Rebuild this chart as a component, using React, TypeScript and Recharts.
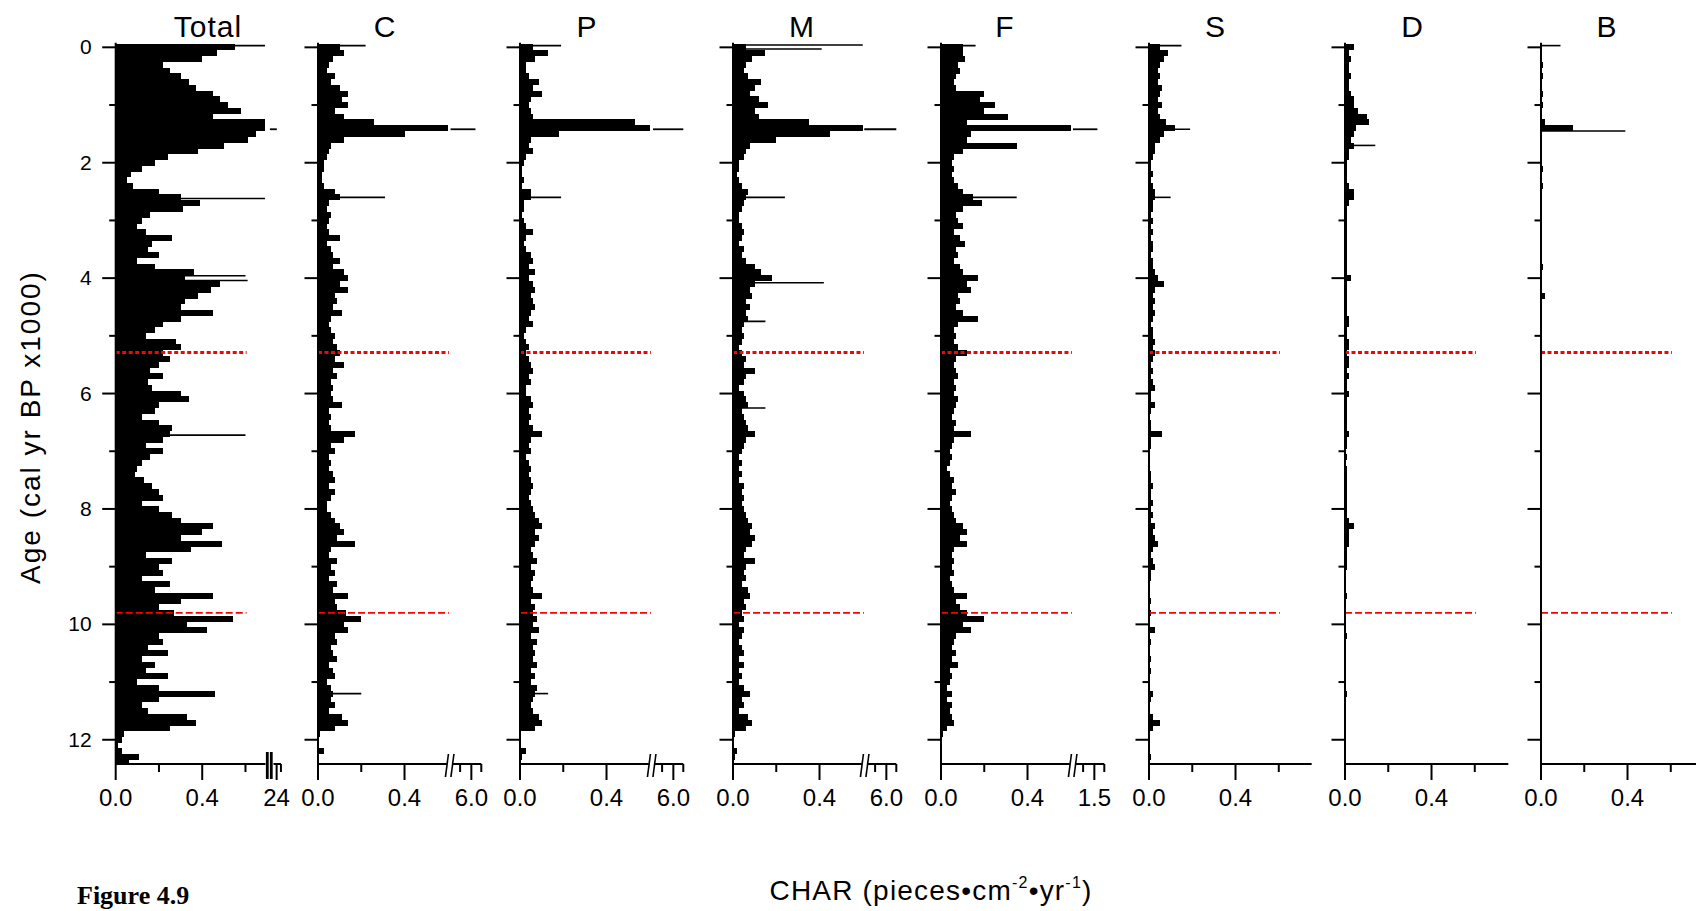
import React from 'react';
import { ComposedChart, Bar, XAxis, YAxis, ReferenceLine } from 'recharts';

// ---------- categories: age (cal yr BP x1000), one sample every 0.1 ----------
const AGES: number[] = Array.from({ length: 125 }, (_, i) => i / 10);
const AGE_TICKS = [0, 1, 2, 3, 4, 5, 6, 7, 8, 9, 10, 11, 12];

// ---------- series values (CHAR, read on the lower axis scale) ----------
const TOTAL = [
  0.55, 0.47, 0.40, 0.22, 0.25, 0.30, 0.34, 0.37, 0.45, 0.48,
  0.52, 0.58, 0.45, 0.69, 0.69, 0.65, 0.61, 0.50, 0.38, 0.24,
  0.18, 0.12, 0.07, 0.05, 0.08, 0.20, 0.30, 0.39, 0.31, 0.16,
  0.12, 0.10, 0.14, 0.26, 0.17, 0.15, 0.20, 0.10, 0.18, 0.36,
  0.32, 0.48, 0.44, 0.38, 0.32, 0.30, 0.45, 0.30, 0.22, 0.18,
  0.14, 0.28, 0.30, 0.22, 0.25, 0.20, 0.16, 0.22, 0.15, 0.17,
  0.30, 0.34, 0.20, 0.18, 0.12, 0.20, 0.26, 0.25, 0.22, 0.14,
  0.22, 0.16, 0.12, 0.10, 0.09, 0.13, 0.17, 0.20, 0.22, 0.12,
  0.20, 0.26, 0.30, 0.45, 0.40, 0.30, 0.49, 0.35, 0.14, 0.26,
  0.20, 0.22, 0.12, 0.25, 0.18, 0.45, 0.30, 0.20, 0.27, 0.54,
  0.33, 0.42, 0.20, 0.22, 0.15, 0.24, 0.12, 0.18, 0.14, 0.24,
  0.10, 0.20, 0.46, 0.20, 0.12, 0.15, 0.33, 0.37, 0.25, 0.04,
  0.03, 0.01, 0.03, 0.11, 0.06,
];
const C = [
  0.10, 0.12, 0.07, 0.05, 0.04, 0.08, 0.06, 0.10, 0.14, 0.11,
  0.14, 0.08, 0.12, 0.26, 0.60, 0.40, 0.12, 0.06, 0.05, 0.04,
  0.03, 0.03, 0.02, 0.02, 0.03, 0.08, 0.10, 0.05, 0.04, 0.06,
  0.05, 0.04, 0.05, 0.10, 0.04, 0.06, 0.07, 0.10, 0.07, 0.12,
  0.14, 0.10, 0.14, 0.08, 0.09, 0.07, 0.11, 0.06, 0.05, 0.06,
  0.08, 0.07, 0.09, 0.10, 0.08, 0.12, 0.07, 0.09, 0.06, 0.07,
  0.06, 0.07, 0.11, 0.05, 0.06, 0.05, 0.06, 0.17, 0.12, 0.06,
  0.08, 0.05, 0.06, 0.05, 0.07, 0.08, 0.05, 0.08, 0.06, 0.04,
  0.04, 0.06, 0.08, 0.10, 0.12, 0.09, 0.17, 0.06, 0.05, 0.09,
  0.06, 0.08, 0.05, 0.09, 0.07, 0.14, 0.08, 0.09, 0.13, 0.20,
  0.12, 0.14, 0.08, 0.09, 0.06, 0.07, 0.09, 0.05, 0.07, 0.08,
  0.04, 0.06, 0.07, 0.06, 0.08, 0.05, 0.11, 0.14, 0.08, 0.01,
  0.00, 0.00, 0.03, 0.00, 0.00,
];
const P = [
  0.06, 0.13, 0.07, 0.03, 0.03, 0.04, 0.09, 0.06, 0.10, 0.05,
  0.04, 0.05, 0.06, 0.53, 0.60, 0.18, 0.05, 0.04, 0.06, 0.03,
  0.02, 0.01, 0.01, 0.02, 0.01, 0.05, 0.05, 0.02, 0.02, 0.01,
  0.02, 0.03, 0.06, 0.03, 0.02, 0.03, 0.05, 0.06, 0.04, 0.07,
  0.04, 0.06, 0.07, 0.05, 0.06, 0.07, 0.05, 0.04, 0.06, 0.03,
  0.02, 0.03, 0.04, 0.03, 0.04, 0.05, 0.06, 0.04, 0.05, 0.03,
  0.03, 0.05, 0.06, 0.04, 0.05, 0.04, 0.06, 0.10, 0.05, 0.04,
  0.05, 0.03, 0.04, 0.05, 0.04, 0.05, 0.06, 0.05, 0.04, 0.05,
  0.06, 0.07, 0.09, 0.10, 0.07, 0.09, 0.07, 0.05, 0.06, 0.08,
  0.05, 0.07, 0.06, 0.05, 0.06, 0.10, 0.05, 0.07, 0.06, 0.08,
  0.06, 0.09, 0.05, 0.08, 0.06, 0.07, 0.06, 0.08, 0.05, 0.07,
  0.05, 0.08, 0.07, 0.06, 0.05, 0.06, 0.09, 0.10, 0.07, 0.00,
  0.00, 0.00, 0.03, 0.01, 0.00,
];
const M = [
  0.06, 0.15, 0.09, 0.06, 0.05, 0.07, 0.13, 0.10, 0.08, 0.12,
  0.16, 0.10, 0.12, 0.35, 0.60, 0.45, 0.20, 0.08, 0.06, 0.05,
  0.03, 0.03, 0.02, 0.03, 0.04, 0.07, 0.06, 0.05, 0.04, 0.03,
  0.03, 0.04, 0.05, 0.04, 0.03, 0.05, 0.04, 0.06, 0.10, 0.13,
  0.18, 0.10, 0.08, 0.09, 0.06, 0.08, 0.06, 0.07, 0.05, 0.04,
  0.05, 0.04, 0.03, 0.04, 0.06, 0.05, 0.10, 0.06, 0.05, 0.03,
  0.05, 0.06, 0.07, 0.04, 0.05, 0.06, 0.07, 0.10, 0.06, 0.05,
  0.04, 0.03, 0.04, 0.03, 0.04, 0.03, 0.05, 0.04, 0.05, 0.04,
  0.05, 0.06, 0.07, 0.09, 0.08, 0.10, 0.09, 0.06, 0.05, 0.10,
  0.06, 0.05, 0.06, 0.04, 0.07, 0.08, 0.05, 0.06, 0.04, 0.05,
  0.03, 0.05, 0.04, 0.03, 0.04, 0.05, 0.03, 0.05, 0.03, 0.04,
  0.03, 0.05, 0.08, 0.04, 0.05, 0.03, 0.07, 0.09, 0.06, 0.01,
  0.00, 0.00, 0.02, 0.01, 0.00,
];
const F = [
  0.10, 0.10, 0.11, 0.08, 0.09, 0.07, 0.06, 0.07, 0.20, 0.18,
  0.25, 0.20, 0.31, 0.12, 0.60, 0.14, 0.12, 0.35, 0.10, 0.06,
  0.05, 0.06, 0.05, 0.06, 0.08, 0.10, 0.15, 0.19, 0.10, 0.07,
  0.08, 0.10, 0.06, 0.09, 0.11, 0.07, 0.08, 0.06, 0.09, 0.10,
  0.17, 0.12, 0.14, 0.08, 0.09, 0.07, 0.10, 0.17, 0.08, 0.06,
  0.07, 0.06, 0.08, 0.12, 0.07, 0.06, 0.07, 0.08, 0.06, 0.07,
  0.06, 0.08, 0.07, 0.06, 0.05, 0.07, 0.06, 0.14, 0.06, 0.05,
  0.04, 0.05, 0.04, 0.03, 0.04, 0.06, 0.05, 0.07, 0.05, 0.04,
  0.05, 0.06, 0.07, 0.10, 0.12, 0.09, 0.12, 0.06, 0.05, 0.06,
  0.05, 0.06, 0.04, 0.05, 0.06, 0.12, 0.07, 0.09, 0.12, 0.20,
  0.10, 0.14, 0.07, 0.06, 0.05, 0.07, 0.05, 0.08, 0.04, 0.05,
  0.04, 0.03, 0.05, 0.03, 0.05, 0.04, 0.05, 0.06, 0.03, 0.01,
  0.00, 0.00, 0.00, 0.00, 0.00,
];
const S = [
  0.05, 0.09, 0.07, 0.05, 0.04, 0.05, 0.04, 0.06, 0.05, 0.04,
  0.06, 0.04, 0.05, 0.08, 0.12, 0.07, 0.05, 0.03, 0.03, 0.02,
  0.01, 0.01, 0.02, 0.01, 0.02, 0.03, 0.03, 0.02, 0.02, 0.01,
  0.02, 0.01, 0.02, 0.01, 0.02, 0.02, 0.01, 0.02, 0.02, 0.03,
  0.04, 0.07, 0.03, 0.02, 0.03, 0.02, 0.03, 0.02, 0.01, 0.02,
  0.02, 0.03, 0.02, 0.03, 0.02, 0.01, 0.02, 0.01, 0.02, 0.03,
  0.01, 0.01, 0.03, 0.01, 0.00, 0.01, 0.01, 0.06, 0.01, 0.01,
  0.00, 0.00, 0.00, 0.00, 0.01, 0.01, 0.02, 0.01, 0.01, 0.02,
  0.01, 0.02, 0.01, 0.03, 0.02, 0.03, 0.04, 0.02, 0.01, 0.02,
  0.03, 0.01, 0.01, 0.00, 0.00, 0.00, 0.01, 0.00, 0.01, 0.00,
  0.00, 0.03, 0.00, 0.01, 0.00, 0.00, 0.01, 0.00, 0.01, 0.00,
  0.00, 0.00, 0.02, 0.01, 0.00, 0.00, 0.02, 0.05, 0.02, 0.00,
  0.00, 0.00, 0.00, 0.01, 0.00,
];
const D = [
  0.04, 0.02, 0.03, 0.02, 0.02, 0.03, 0.02, 0.02, 0.03, 0.04,
  0.04, 0.06, 0.10, 0.11, 0.05, 0.04, 0.03, 0.04, 0.02, 0.02,
  0.01, 0.01, 0.01, 0.01, 0.02, 0.04, 0.04, 0.02, 0.01, 0.01,
  0.01, 0.01, 0.01, 0.01, 0.01, 0.01, 0.01, 0.01, 0.01, 0.01,
  0.03, 0.01, 0.01, 0.01, 0.01, 0.01, 0.01, 0.02, 0.02, 0.01,
  0.01, 0.02, 0.02, 0.01, 0.02, 0.02, 0.01, 0.02, 0.01, 0.01,
  0.02, 0.01, 0.01, 0.01, 0.01, 0.01, 0.01, 0.02, 0.01, 0.01,
  0.00, 0.01, 0.00, 0.01, 0.01, 0.01, 0.01, 0.01, 0.01, 0.01,
  0.01, 0.01, 0.02, 0.04, 0.02, 0.02, 0.02, 0.01, 0.01, 0.01,
  0.01, 0.00, 0.00, 0.00, 0.00, 0.01, 0.00, 0.00, 0.00, 0.00,
  0.00, 0.00, 0.01, 0.00, 0.00, 0.00, 0.00, 0.00, 0.00, 0.00,
  0.00, 0.00, 0.01, 0.00, 0.00, 0.00, 0.00, 0.00, 0.00, 0.00,
  0.00, 0.00, 0.00, 0.00, 0.00,
];
const B = [
  0.00, 0.00, 0.00, 0.01, 0.00, 0.01, 0.00, 0.00, 0.01, 0.00,
  0.01, 0.00, 0.00, 0.02, 0.15, 0.00, 0.00, 0.00, 0.00, 0.00,
  0.00, 0.01, 0.00, 0.00, 0.01, 0.00, 0.00, 0.00, 0.00, 0.00,
  0.00, 0.00, 0.00, 0.00, 0.00, 0.00, 0.00, 0.00, 0.01, 0.00,
  0.00, 0.00, 0.00, 0.02, 0.00, 0.00, 0.00, 0.00, 0.00, 0.00,
  0.00, 0.00, 0.00, 0.00, 0.00, 0.00, 0.00, 0.00, 0.00, 0.00,
  0.00, 0.00, 0.00, 0.00, 0.00, 0.00, 0.00, 0.00, 0.00, 0.00,
  0.00, 0.00, 0.00, 0.00, 0.00, 0.00, 0.00, 0.00, 0.00, 0.00,
  0.00, 0.00, 0.00, 0.00, 0.00, 0.00, 0.00, 0.00, 0.00, 0.00,
  0.00, 0.00, 0.00, 0.00, 0.00, 0.00, 0.00, 0.00, 0.00, 0.00,
  0.00, 0.00, 0.00, 0.00, 0.00, 0.00, 0.00, 0.00, 0.00, 0.00,
  0.00, 0.00, 0.00, 0.00, 0.00, 0.00, 0.00, 0.00, 0.00, 0.00,
  0.00, 0.00, 0.00, 0.00, 0.00,
];

// thin single-sample peaks: [age, value]
const TOTAL_SPIKES = [[-0.03, 0.69], [2.62, 0.69], [3.96, 0.60], [4.04, 0.61], [6.72, 0.60]];
const C_SPIKES = [[-0.03, 0.22], [2.6, 0.31], [11.2, 0.20]];
const P_SPIKES = [[-0.03, 0.19], [2.6, 0.19], [11.2, 0.13]];
const M_SPIKES = [[-0.04, 0.60], [0.03, 0.41], [2.6, 0.24], [4.08, 0.42], [4.75, 0.15], [6.25, 0.15]];
const F_SPIKES = [[-0.03, 0.16], [2.6, 0.35]];
const S_SPIKES = [[-0.03, 0.15], [1.42, 0.19], [2.6, 0.10]];
const D_SPIKES = [[1.7, 0.14]];
const B_SPIKES = [[-0.03, 0.09], [1.45, 0.39]];

// part of the 1.4 ka peak drawn beyond the axis break: [age, from, to]
const TOTAL_OVER = [[1.42, 0.713, 0.745]];
const C_OVER = [[1.42, 0.613, 0.728]];
const P_OVER = [[1.42, 0.615, 0.755]];
const M_OVER = [[1.42, 0.607, 0.755]];
const F_OVER = [[1.42, 0.61, 0.723]];

// red dashed zone boundaries (age)
const ZONE_TOP = 5.29;
const ZONE_BOTTOM = 9.8;
const ZONE_EXTENT = 0.605;

// x tick definitions
type TickDef = { v: number; kind: 'major' | 'minor' | 'bars' | 'slash'; label?: string };
const TICKS_TOTAL: TickDef[] = [
  { v: 0, kind: 'major', label: '0.0' },
  { v: 0.2, kind: 'minor' },
  { v: 0.4, kind: 'major', label: '0.4' },
  { v: 0.6, kind: 'minor' },
  { v: 0.711, kind: 'bars' },
  { v: 0.744, kind: 'major', label: '24' },
  { v: 0.764, kind: 'minor' },
];
const brokenTicks = (upper: string): TickDef[] => [
  { v: 0, kind: 'major', label: '0.0' },
  { v: 0.2, kind: 'minor' },
  { v: 0.4, kind: 'major', label: '0.4' },
  { v: 0.61, kind: 'slash' },
  { v: 0.657, kind: 'minor' },
  { v: 0.709, kind: 'major', label: upper },
  { v: 0.755, kind: 'minor' },
];
const TICKS_PLAIN: TickDef[] = [
  { v: 0, kind: 'major', label: '0.0' },
  { v: 0.2, kind: 'minor' },
  { v: 0.4, kind: 'major', label: '0.4' },
  { v: 0.6, kind: 'minor' },
];

// ---------- layout ----------
const W = 1696;
const H = 911;
const PX_PER_UNIT = 216.3;
const PLOT_TOP = 42.7;
const AXIS_Y = 764;
const AGE_DOMAIN: [number, number] = [-0.08, 12.42];
const FONT = '"Liberation Sans", Arial, sans-serif';

type PanelDef = {
  name: string; zeroX: number; values: number[]; spikes: number[][]; over: number[][];
  ticks: TickDef[]; axisMax: number; titleX: number; ageLabels: boolean;
};

const PANELS: PanelDef[] = [
  { name: 'Total', zeroX: 115.7, values: TOTAL, spikes: TOTAL_SPIKES, over: TOTAL_OVER, ticks: TICKS_TOTAL, axisMax: 0.764, titleX: 208, ageLabels: true },
  { name: 'C', zeroX: 317.5, values: C, spikes: C_SPIKES, over: C_OVER, ticks: brokenTicks('6.0'), axisMax: 0.755, titleX: 385, ageLabels: false },
  { name: 'P', zeroX: 520, values: P, spikes: P_SPIKES, over: P_OVER, ticks: brokenTicks('6.0'), axisMax: 0.755, titleX: 587, ageLabels: false },
  { name: 'M', zeroX: 733.4, values: M, spikes: M_SPIKES, over: M_OVER, ticks: brokenTicks('6.0'), axisMax: 0.755, titleX: 802, ageLabels: false },
  { name: 'F', zeroX: 940.7, values: F, spikes: F_SPIKES, over: F_OVER, ticks: brokenTicks('1.5'), axisMax: 0.755, titleX: 1005, ageLabels: false },
  { name: 'S', zeroX: 1149.3, values: S, spikes: S_SPIKES, over: [], ticks: TICKS_PLAIN, axisMax: 0.752, titleX: 1215.5, ageLabels: false },
  { name: 'D', zeroX: 1345, values: D, spikes: D_SPIKES, over: [], ticks: TICKS_PLAIN, axisMax: 0.755, titleX: 1412.5, ageLabels: false },
  { name: 'B', zeroX: 1541, values: B, spikes: B_SPIKES, over: [], ticks: TICKS_PLAIN, axisMax: 0.755, titleX: 1607, ageLabels: false },
];

const BarShape = (props: any) => {
  const { x, y, width, height } = props;
  if (!width || width <= 0) return <g />;
  return <rect x={x} y={y} width={width} height={height} fill="#000" shapeRendering="crispEdges" />;
};

const XTick = (props: any) => {
  const { x, y, payload, defs } = props;
  const def: TickDef | undefined = defs.find((d: TickDef) => Math.abs(d.v - payload.value) < 1e-6);
  if (!def) return <g />;
  if (def.kind === 'bars') {
    return (
      <g>
        <rect x={x - 4} y={y - 13} width={8} height={29} fill="#fff" />
        <rect x={x - 3.6} y={y - 12} width={2.8} height={27} fill="#000" />
        <rect x={x + 0.4} y={y - 12} width={2.8} height={27} fill="#000" />
      </g>
    );
  }
  if (def.kind === 'slash') {
    return (
      <g>
        <rect x={x - 3} y={y - 3} width={6} height={6} fill="#fff" />
        <line x1={x - 4.5} y1={y + 13} x2={x - 1.5} y2={y - 10} stroke="#000" strokeWidth={1.6} />
        <line x1={x + 1} y1={y + 13} x2={x + 4} y2={y - 10} stroke="#000" strokeWidth={1.6} />
      </g>
    );
  }
  const len = def.kind === 'major' ? 16 : 8;
  return (
    <g>
      <line x1={x} x2={x} y1={y} y2={y + len} stroke="#000" strokeWidth={2} />
      {def.label ? (
        <text x={x} y={y + 42} textAnchor="middle" fontSize={24} fontFamily={FONT} fill="#000">
          {def.label}
        </text>
      ) : null}
    </g>
  );
};

const YTick = (props: any) => {
  const { x, y, payload, showLabel } = props;
  const v = payload.value as number;
  const even = v % 2 === 0;
  const len = even ? 13.5 : 6.5;
  return (
    <g>
      <line x1={x - len} x2={x} y1={y} y2={y} stroke="#000" strokeWidth={2} />
      {showLabel && even ? (
        <text x={x - 24} y={y} dy={7} textAnchor="end" fontSize={21} fontFamily={FONT} fill="#000">
          {v}
        </text>
      ) : null}
    </g>
  );
};

function Panel({ p }: { p: PanelDef }) {
  const data = AGES.map((age, i) => ({ age, v: p.values[i] }));
  const leftW = p.ageLabels ? p.zeroX : 30;
  const plotW = p.axisMax * PX_PER_UNIT;
  const rightM = 12;
  const width = leftW + plotW + rightM;
  const left = p.zeroX - leftW;
  return (
    <div style={{ position: 'absolute', left, top: 0, width, height: H }}>
      <ComposedChart
        width={width}
        height={H}
        data={data}
        layout="vertical"
        margin={{ top: PLOT_TOP, right: rightM, bottom: 0, left: 0 }}
        barCategoryGap={0}
        barGap={0}
      >
        <XAxis
          type="number"
          domain={[0, p.axisMax]}
          allowDataOverflow
          ticks={p.ticks.map((t) => t.v)}
          interval={0}
          height={H - AXIS_Y}
          axisLine={{ stroke: '#000', strokeWidth: 2 }}
          tickLine={false}
          tickSize={0}
          tickMargin={0}
          tick={(tp: any) => <XTick {...tp} defs={p.ticks} />}
        />
        <YAxis
          type="number"
          dataKey="age"
          domain={AGE_DOMAIN}
          allowDataOverflow
          ticks={AGE_TICKS}
          interval={0}
          width={leftW}
          axisLine={{ stroke: '#000', strokeWidth: 2 }}
          tickLine={false}
          tickSize={0}
          tickMargin={0}
          tick={(tp: any) => <YTick {...tp} showLabel={p.ageLabels} />}
        />
        <Bar dataKey="v" fill="#000" isAnimationActive={false} shape={BarShape} />
        {p.spikes.map(([age, val], i) => (
          <ReferenceLine
            key={'s' + i}
            segment={[{ x: 0, y: age }, { x: val, y: age }]}
            stroke="#000"
            strokeWidth={1.6}
            ifOverflow="visible"
          />
        ))}
        {p.over.map(([age, from, to], i) => (
          <ReferenceLine
            key={'o' + i}
            segment={[{ x: from, y: age }, { x: to, y: age }]}
            stroke="#000"
            strokeWidth={1.8}
            ifOverflow="visible"
          />
        ))}
        <ReferenceLine
          segment={[{ x: 0, y: ZONE_TOP }, { x: ZONE_EXTENT, y: ZONE_TOP }]}
          stroke="#ff0000"
          strokeWidth={3}
          strokeDasharray="4 2.5"
          ifOverflow="visible"
        />
        <ReferenceLine
          segment={[{ x: 0, y: ZONE_BOTTOM }, { x: ZONE_EXTENT, y: ZONE_BOTTOM }]}
          stroke="#ff0000"
          strokeWidth={1.8}
          strokeDasharray="7 3"
          ifOverflow="visible"
        />
      </ComposedChart>
    </div>
  );
}

export default function App() {
  return (
    <div style={{ position: 'absolute', left: 0, top: 0, width: W, height: H, overflow: 'hidden', background: '#fff' }}>
      {PANELS.map((p) => (
        <Panel key={p.name} p={p} />
      ))}
      <svg width={W} height={H} style={{ position: 'absolute', left: 0, top: 0, pointerEvents: 'none' }}>
        {PANELS.map((p) => (
          <text key={p.name} x={p.titleX} y={37} textAnchor="middle" fontSize={30} letterSpacing={1} fontFamily={FONT} fill="#000">
            {p.name}
          </text>
        ))}
        <text
          transform="translate(40,427) rotate(-90)"
          textAnchor="middle"
          fontSize={28}
          letterSpacing={2}
          fontFamily={FONT}
          fill="#000"
        >
          Age (cal yr BP x1000)
        </text>
        <text x={931} y={900} textAnchor="middle" fontSize={28} letterSpacing={1.2} fontFamily={FONT} fill="#000">
          CHAR (pieces•cm
          <tspan fontSize={16} dy={-12}>-2</tspan>
          <tspan dy={12}>•yr</tspan>
          <tspan fontSize={16} dy={-12}>-1</tspan>
          <tspan dy={12}>)</tspan>
        </text>
        <text x={77} y={904} fontSize={26} fontWeight="bold" fontFamily='"Liberation Serif", "Times New Roman", serif' fill="#000">
          Figure 4.9
        </text>
      </svg>
    </div>
  );
}
